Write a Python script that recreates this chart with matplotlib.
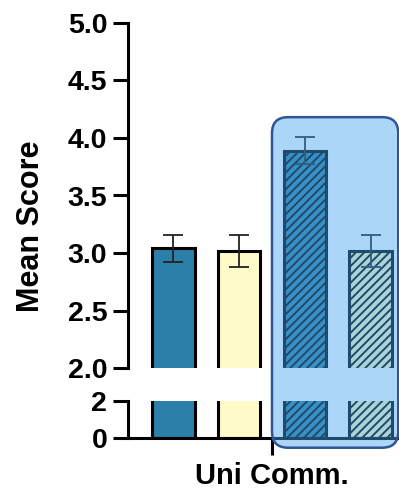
import numpy as np
import matplotlib
matplotlib.use("Agg")
import matplotlib.pyplot as plt
from matplotlib.patches import FancyBboxPatch
from matplotlib.transforms import IdentityTransform

plt.rcParams['font.family'] = ['Liberation Sans', 'DejaVu Sans']
plt.rcParams['font.weight'] = 'bold'
plt.rcParams['hatch.linewidth'] = 1.4

# data
groups = ["Uni Comm."]
means = [3.04, 3.02, 3.89, 3.02]
errors = [0.12, 0.14, 0.12, 0.14]
colors = ["#2b7fa8", "#fffbc8", "#2b7fa8", "#fffbc8"]
hatches = [None, None, "////", "////"]
upper_ticks = [2.0, 2.5, 3.0, 3.5, 4.0, 4.5, 5.0]
lower_ticks = [0, 2]

W, H = 399, 494
fig = plt.figure(figsize=(W / 100, H / 100), dpi=100)

# broken y axis: upper part 2-5, lower part 0-2
left = 128 / W
width = 288 / W
ax_top = fig.add_axes([left, (H - 368.3) / H, width, (368.3 - 22.7) / H])
ax_bot = fig.add_axes([left, (H - 438.3) / H, width, (438.3 - 400.7) / H])

x = np.arange(len(means))
center = x.mean()
for ax in (ax_top, ax_bot):
    for i in range(len(means)):
        ax.bar(x[i], means[i], width=0.65, color=colors[i], edgecolor="black",
               linewidth=2.2, hatch=hatches[i], zorder=2)
    ax.set_xlim(center - 2.19, center + 2.19)
    for s in ("top", "right"):
        ax.spines[s].set_visible(False)
    for s in ("left", "bottom"):
        ax.spines[s].set_linewidth(2.2)
    ax.tick_params(axis="both", width=2.2, length=11, labelsize=20.5, pad=4)

ax_top.errorbar(x, means, yerr=errors, fmt="none", ecolor="#222222",
                elinewidth=1.3, capsize=7.5, capthick=1.3, zorder=3)

ax_top.set_ylim(2.0, 5.0)
ax_top.set_yticks(upper_ticks)
ax_top.set_yticklabels([f"{t:.1f}" for t in upper_ticks])
ax_top.spines["bottom"].set_visible(False)
ax_top.set_xticks([])

ax_bot.set_ylim(0, 2)
ax_bot.set_yticks(lower_ticks)
ax_bot.set_yticklabels([str(t) for t in lower_ticks])
ax_bot.set_xticks([center])
ax_bot.set_xticklabels(groups, fontsize=21)
ax_bot.tick_params(axis="x", length=12, pad=5)

fig.text(31 / W, 1 - 226 / H, "Mean Score", rotation=90, ha="center",
         va="center", fontsize=22, fontweight="bold")

# highlight box around the last two bars
fig.canvas.draw()
x0, y1 = ax_top.transData.transform((center, 4.18))
x1, _ = ax_top.transData.transform((x[-1] + 0.42, 4.18))
_, y0 = ax_bot.transData.transform((center, -0.5))
box = FancyBboxPatch((x0, y0), x1 - x0, y1 - y0,
                     boxstyle="round,pad=0,rounding_size=16",
                     facecolor=(70 / 255, 166 / 255, 238 / 255, 0.45),
                     edgecolor="#2f5597", linewidth=1.8,
                     transform=IdentityTransform(), zorder=10)
fig.add_artist(box)

fig.savefig("out.png", dpi=100)
